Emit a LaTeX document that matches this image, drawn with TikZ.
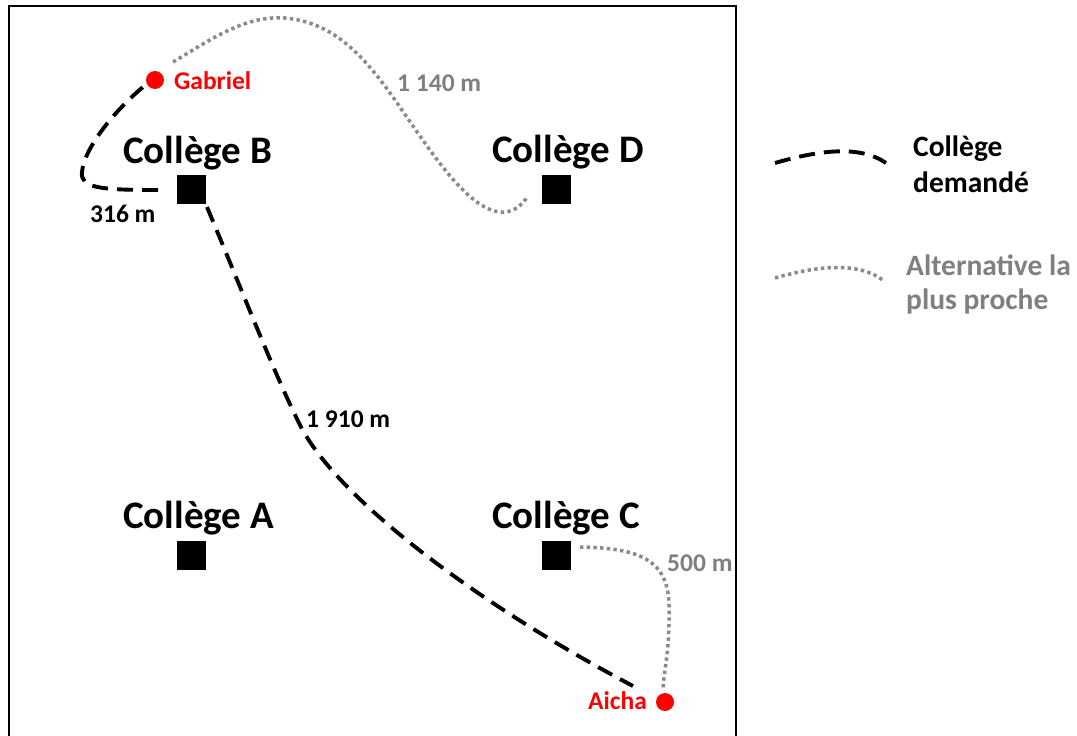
\documentclass[tikz,border=0pt]{standalone}
\usepackage{fontspec}
\setmainfont{Carlito}
\definecolor{txtgray}{RGB}{128,128,128}
\definecolor{dotgray}{RGB}{138,138,138}
\begin{document}
\begin{tikzpicture}[x=1pt,y=-1pt,
  college/.style={rectangle, fill=black, minimum size=29pt, inner sep=0pt},
  person/.style={circle, fill=red, minimum size=18pt, inner sep=0pt},
  bigLabel/.style={font=\fontsize{39}{47}\selectfont\bfseries, inner sep=0pt, anchor=base west},
  smallLabel/.style={font=\fontsize{25.5}{31}\selectfont\bfseries, inner sep=0pt, anchor=base west},
  legLabel/.style={font=\fontsize{29.5}{36}\selectfont\bfseries, inner sep=0pt, anchor=base west},
  requested/.style={draw=black, line width=3.9pt, dash pattern=on 16pt off 9pt},
  alternative/.style={draw=dotgray, line width=3.5pt, dash pattern=on 3.4pt off 3.3pt},
]
\useasboundingbox (0,0) rectangle (1077,736);
\fill[white] (0,0) rectangle (1077,736);
\begin{scope}
\clip (0,0) rectangle (1077,736);
\draw[line width=2.3pt] (9,6) rectangle (736,770);
\end{scope}

% colleges
\node[college] (B) at (191.5,189.5) {};
\node[college] (D) at (556,189.5) {};
\node[college] (A) at (191.5,555.5) {};
\node[college] (C) at (556,555.5) {};
\node[bigLabel] (lB) at (123,163) {Collège B};
\node[bigLabel] (lD) at (492,162) {Collège D};
\node[bigLabel] (lA) at (123,528) {Collège A};
\node[bigLabel] (lC) at (492,528) {Collège C};

% persons
\node[person] (G) at (155,80) {};
\node[person] (Ai) at (665,702) {};
\node[smallLabel, text=red] (lG) at (174,89) {Gabriel};
\node[smallLabel, text=red] (lAi) at (588,709) {Aicha};

% distances
\node[smallLabel] (d316) at (90,222) {316 m};
\node[smallLabel] (d1910) at (306,427) {1 910 m};
\node[smallLabel, text=txtgray] (d1140) at (397,91) {1 140 m};
\node[smallLabel, text=txtgray] (d500) at (667,571) {500 m};

% connector ends
\coordinate (gB) at (158,190);
\coordinate (gG) at (143,87);
\coordinate (aB) at (207,207);
\coordinate (aAi) at (633,686);
\coordinate (xG) at (173,62);
\coordinate (xD) at (528,196);
\coordinate (xC) at (580,547);
\coordinate (xAi) at (663,688);

% requested routes
\draw[requested] (gB) .. controls (100,190) and (80,188) .. (82,172)
  .. controls (84,150) and (110,115) .. (gG);
\draw[requested] (aB) .. controls (250,310) and (275,375) .. (300,425)
  .. controls (335,495) and (470,600) .. (aAi);

% alternative routes
\draw[alternative] (xG) .. controls (210,40) and (245,15) .. (285,18)
  .. controls (330,22) and (360,50) .. (395,100)
  .. controls (430,150) and (470,215) .. (505,212)
  .. controls (515,211) and (522,205) .. (xD);
\draw[alternative] (xC) .. controls (640,548) and (668,560) .. (669,605)
  .. controls (670,650) and (664,670) .. (xAi);

% legend
\coordinate (k1) at (775,163);
\coordinate (k2) at (886,163);
\coordinate (k3) at (775,278);
\coordinate (k4) at (884,281);
\draw[requested] (k1) .. controls (820,150) and (860,145) .. (k2);
\draw[alternative] (k3) .. controls (820,265) and (860,262) .. (k4);
\node[legLabel] (t1) at (913,156) {Collège};
\node[legLabel] (t2) at (913,192) {demandé};
\node[legLabel, text=txtgray] (t3) at (906,275) {Alternative la};
\node[legLabel, text=txtgray] (t4) at (906,309) {plus proche};
\end{tikzpicture}
\end{document}
